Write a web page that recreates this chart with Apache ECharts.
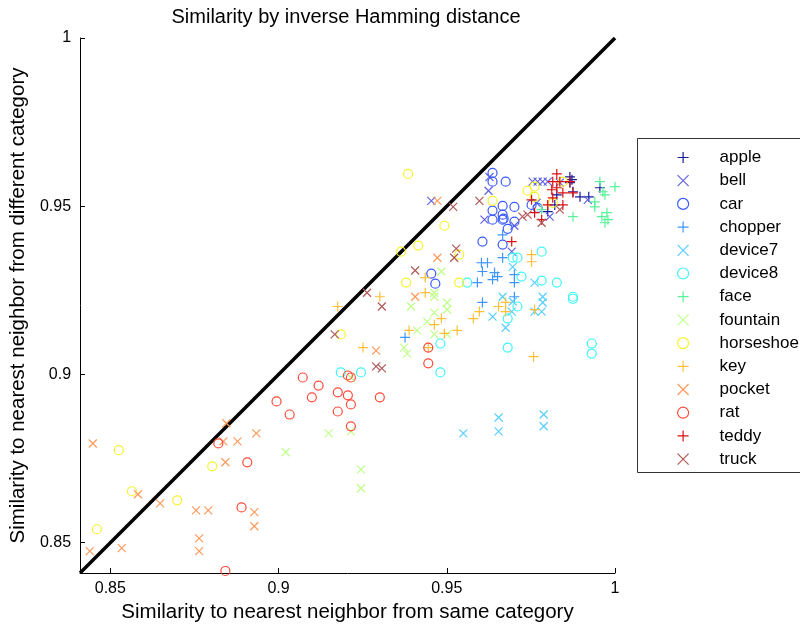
<!DOCTYPE html>
<html><head><meta charset="utf-8">
<script src="https://cdn.jsdelivr.net/npm/echarts@6/dist/echarts.min.js"></script>
<style>html,body{margin:0;padding:0;background:#fff}#c{width:800px;height:628px}</style>
</head><body><div id="c"></div>
<script>
const categories = ['apple','bell','car','chopper','device7','device8','face','fountain','horseshoe','key','pocket','rat','teddy','truck'];

const apple = [[0.9866,0.9587],[0.9866,0.9570],[0.9875,0.9543],[0.9896,0.9528],[0.9922,0.9528],[0.9955,0.9555],[0.9800,0.9484],[0.9821,0.9504],[0.9827,0.9534],[0.9872,0.9579]];
const bell = [[0.9627,0.9587],[0.9624,0.9546],[0.9454,0.9516],[0.9612,0.9460],[0.9701,0.9442],[0.9693,0.9365],[0.9755,0.9573],[0.9770,0.9573],[0.9785,0.9573],[0.9800,0.9573],[0.9919,0.9519],[0.9767,0.9510],[0.9806,0.9469],[0.9836,0.9570]];
const car = [[0.9636,0.9599],[0.9636,0.9573],[0.9675,0.9573],[0.9666,0.9501],[0.9701,0.9498],[0.9636,0.9487],[0.9666,0.9475],[0.9636,0.9460],[0.9669,0.9463],[0.9701,0.9454],[0.9681,0.9433],[0.9666,0.9460],[0.9606,0.9395],[0.9666,0.9386],[0.9752,0.9504],[0.9770,0.9495],[0.9454,0.9300],[0.9466,0.9270]];
const chopper = [[0.9606,0.9306],[0.9642,0.9303],[0.9651,0.9291],[0.9701,0.9297],[0.9701,0.9273],[0.9591,0.9273],[0.9636,0.9282],[0.9701,0.9231],[0.9606,0.9214],[0.9376,0.9110],[0.9666,0.9415],[0.9666,0.9347],[0.9603,0.9332],[0.9621,0.9332]];
const device7 = [[0.9761,0.9273],[0.9666,0.9231],[0.9785,0.9231],[0.9785,0.9214],[0.9696,0.9217],[0.9636,0.9172],[0.9693,0.9187],[0.9761,0.9187],[0.9782,0.9187],[0.9675,0.9139],[0.9654,0.8872],[0.9654,0.8831],[0.9788,0.8881],[0.9788,0.8846],[0.9549,0.8825],[0.9696,0.9320]];
const device8 = [[0.9561,0.9273],[0.9722,0.9291],[0.9782,0.9279],[0.9827,0.9273],[0.9875,0.9231],[0.9875,0.9225],[0.9710,0.9202],[0.9681,0.9166],[0.9481,0.9092],[0.9681,0.9080],[0.9931,0.9092],[0.9931,0.9062],[0.9481,0.9006],[0.9696,0.9347],[0.9710,0.9347],[0.9782,0.9365],[0.9185,0.9006],[0.9245,0.9006]];
const face = [[0.9955,0.9573],[1.0000,0.9558],[0.9970,0.9534],[0.9940,0.9513],[0.9940,0.9498],[0.9976,0.9481],[0.9961,0.9469],[0.9979,0.9460],[0.9970,0.9451],[0.9875,0.9469],[0.9782,0.9490],[0.9964,0.9543]];
const fountain = [[0.9484,0.9306],[0.9463,0.9243],[0.9463,0.9231],[0.9501,0.9214],[0.9501,0.9193],[0.9394,0.9202],[0.9463,0.9184],[0.9442,0.9157],[0.9412,0.9131],[0.9463,0.9119],[0.9501,0.9119],[0.9373,0.9080],[0.9382,0.9062],[0.9215,0.8991],[0.9149,0.8825],[0.9215,0.8831],[0.9021,0.8769],[0.9245,0.8718],[0.9245,0.8662]];
const horseshoe = [[0.9385,0.9596],[0.9636,0.9516],[0.9493,0.9442],[0.9415,0.9383],[0.9537,0.9356],[0.9364,0.9365],[0.9740,0.9546],[0.9761,0.9558],[0.9761,0.9528],[0.9845,0.9573],[0.9815,0.9510],[0.9379,0.9273],[0.9537,0.9273],[0.9185,0.9119],[0.8525,0.8775],[0.8803,0.8727],[0.8564,0.8653],[0.8699,0.8626],[0.8460,0.8540]];
const key = [[0.9436,0.9288],[0.9436,0.9243],[0.9675,0.9214],[0.9654,0.9202],[0.9675,0.9187],[0.9597,0.9187],[0.9579,0.9166],[0.9484,0.9166],[0.9463,0.9148],[0.9388,0.9131],[0.9531,0.9131],[0.9493,0.9122],[0.9761,0.9193],[0.9758,0.9053],[0.9752,0.9356],[0.9752,0.9335],[0.9301,0.9231],[0.9176,0.9202],[0.9251,0.9080],[0.9445,0.9080]];
const pocket = [[0.9472,0.9516],[0.9472,0.9347],[0.9406,0.9231],[0.9290,0.9071],[0.8448,0.8795],[0.8582,0.8644],[0.8648,0.8617],[0.8755,0.8596],[0.8791,0.8596],[0.8836,0.8801],[0.8878,0.8801],[0.8934,0.8825],[0.8842,0.8739],[0.8928,0.8591],[0.8928,0.8549],[0.8764,0.8513],[0.8764,0.8475],[0.8534,0.8484],[0.8439,0.8475],[0.8845,0.8855]];
const rat = [[0.9445,0.9080],[0.9445,0.9033],[0.9072,0.8991],[0.9119,0.8967],[0.9099,0.8932],[0.8994,0.8920],[0.9033,0.8881],[0.9206,0.8997],[0.9215,0.8991],[0.9176,0.8947],[0.9206,0.8938],[0.9215,0.8911],[0.9176,0.8890],[0.9215,0.8846],[0.9301,0.8932],[0.8821,0.8795],[0.8907,0.8739],[0.8890,0.8605],[0.8842,0.8416]];
const teddy = [[0.9827,0.9596],[0.9815,0.9573],[0.9836,0.9573],[0.9812,0.9549],[0.9827,0.9555],[0.9845,0.9540],[0.9815,0.9525],[0.9845,0.9504],[0.9875,0.9540],[0.9800,0.9504],[0.9761,0.9481],[0.9693,0.9395],[0.9782,0.9460],[0.9752,0.9519],[0.9866,0.9573]];
const truck = [[0.9519,0.9498],[0.9597,0.9516],[0.9528,0.9374],[0.9522,0.9347],[0.9406,0.9309],[0.9263,0.9243],[0.9307,0.9202],[0.9167,0.9119],[0.9290,0.9024],[0.9307,0.9018],[0.9725,0.9469],[0.9740,0.9475],[0.9782,0.9451],[0.9836,0.9490]];

const diagonal = [[0.841,0.841],[1,1]];
const xTicks = [0.85, 0.9, 0.95, 1];
const yTicks = [0.85, 0.9, 0.95, 1];
const xLabel = 'Similarity to nearest neighbor from same category';
const yLabel = 'Similarity to nearest neighbor from different category';
const titleText = 'Similarity by inverse Hamming distance';

const seriesValues = [apple, bell, car, chopper, device7, device8, face, fountain, horseshoe, key, pocket, rat, teddy, truck];
const colors = ['#1a1a9a','#6464e0','#3a5aff','#3f96ff','#58ceff','#3ef6f6','#58f298','#c0ff8a','#f5f52a','#ffbf38','#ff9a5a','#ff4a3a','#dc1010','#b05858'];
const PLUS = 'path://M5,0L5,10M0,5L10,5';
const CROSS = 'path://M0,0L10,10M10,0L0,10';
const shapeCycle = [PLUS, CROSS, 'circle'];
const sizeCycle = [10, 8, 9];
const FONT = 'Liberation Sans, Arial, sans-serif';

const chart = echarts.init(document.getElementById('c'), null, {renderer: 'canvas'});
const series = categories.map((name, i) => ({
  name: name,
  type: 'scatter',
  data: seriesValues[i],
  symbol: shapeCycle[i % 3],
  symbolSize: sizeCycle[i % 3],
  itemStyle: {color: 'rgba(0,0,0,0)', borderColor: colors[i], borderWidth: 1.2, opacity: 1},
  emphasis: {disabled: true},
  animation: false
}));
series.unshift({
  name: 'diag',
  type: 'line',
  data: diagonal,
  showSymbol: false,
  symbol: 'none',
  lineStyle: {color: '#000', width: 3.5},
  silent: true,
  animation: false,
  z: 1
});

chart.setOption({
  backgroundColor: '#fff',
  animation: false,
  title: {
    text: titleText, left: 341, top: 2, textAlign: 'center',
    textStyle: {fontFamily: FONT, fontSize: 20, fontWeight: 'normal', color: '#000'}
  },
  grid: {left: 78, right: 185, top: 38, bottom: 55, containLabel: false},
  xAxis: {
    type: 'value', min: 0.841, max: 1,
    name: xLabel, nameLocation: 'middle', nameGap: 24,
    nameTextStyle: {fontFamily: FONT, fontSize: 20.5, color: '#000'},
    axisLine: {show: true, onZero: false, lineStyle: {color: '#000', width: 1}},
    axisTick: {show: true, inside: true, length: 5, customValues: xTicks, lineStyle: {color: '#000'}},
    axisLabel: {customValues: xTicks, fontFamily: FONT, fontSize: 16, color: '#000', margin: 8,
      formatter: v => String(v)},
    splitLine: {show: false}
  },
  yAxis: {
    type: 'value', min: 0.841, max: 1,
    name: yLabel, nameLocation: 'middle', nameGap: 46,
    nameTextStyle: {fontFamily: FONT, fontSize: 20.5, color: '#000'},
    axisLine: {show: true, onZero: false, lineStyle: {color: '#000', width: 1}},
    axisTick: {show: true, inside: true, length: 5, customValues: yTicks, lineStyle: {color: '#000'}},
    axisLabel: {customValues: yTicks, fontFamily: FONT, fontSize: 16, color: '#000', margin: 9,
      formatter: v => String(v)},
    splitLine: {show: false}
  },
  legend: {
    data: categories,
    orient: 'vertical',
    left: 677, top: 149,
    padding: 0,
    itemWidth: 11, itemHeight: 11,
    itemGap: 6.2,
    selectedMode: false,
    itemStyle: {borderWidth: 1.2},
    textStyle: {fontFamily: FONT, fontSize: 17, color: '#000', lineHeight: 17, padding: [0, 0, 0, 26]}
  },
  graphic: [{
    type: 'rect', left: 637, top: 138, silent: true, z: -1,
    shape: {width: 200, height: 334},
    style: {fill: '#fff', stroke: '#333', lineWidth: 1}
  }],
  series: series
});
</script></body></html>
